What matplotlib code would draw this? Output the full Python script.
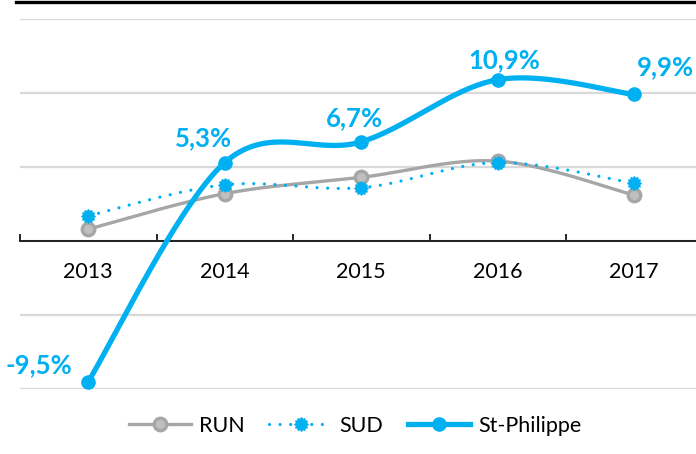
import numpy as np
import matplotlib
matplotlib.use("Agg")
import matplotlib.pyplot as plt
from matplotlib.lines import Line2D
from matplotlib.path import Path

years = ["2013", "2014", "2015", "2016", "2017"]
run = [0.8, 3.2, 4.3, 5.4, 3.1]
sud = [1.7, 3.8, 3.6, 5.3, 3.9]
st_philippe = [-9.5, 5.3, 6.7, 10.9, 9.9]

# where each St-Philippe value label sits relative to its point (pixels)
label_offsets = [(-49, 16), (-21, 24), (-7, 24), (7, 20), (31, 27)]

BLUE = "#00B0F0"
GREY = "#A6A6A6"
GREY_FILL = "#BFBFBF"
GRID = "#D9D9D9"
DOTS = (0, (0.01, 3.3))

plt.rcParams["font.family"] = ["Lato", "DejaVu Sans"]


def smooth(xs, ys, n=40):
    # Catmull-Rom style bezier through the points, like a spreadsheet "smoothed line"
    pts = np.column_stack([xs, ys]).astype(float)
    p = np.vstack([pts[0], pts, pts[-1]])
    t = np.linspace(0, 1, n)[:, None]
    out = []
    for i in range(1, len(p) - 2):
        p0, p1, p2, p3 = p[i - 1], p[i], p[i + 1], p[i + 2]
        c1 = p1 + (p2 - p0) / 6
        c2 = p2 - (p3 - p1) / 6
        seg = (1 - t) ** 3 * p1 + 3 * (1 - t) ** 2 * t * c1 + 3 * (1 - t) * t ** 2 * c2 + t ** 3 * p2
        out.append(seg if i == 1 else seg[1:])
    return np.vstack(out)


# bumpy round marker for SUD
ang = np.linspace(0, 2 * np.pi, 25)[:-1]
rad = np.where(np.arange(24) % 2 == 0, 1.0, 0.78)
verts = np.column_stack([rad * np.cos(ang), rad * np.sin(ang)])
verts = np.vstack([verts, verts[0]])
gear = Path(verts, closed=True)

W, H = 696, 454
fig = plt.figure(figsize=(W / 100, H / 100), dpi=100)
ax = fig.add_axes([20 / W, (H - 389) / H, 682.5 / W, 370 / H])

x = np.arange(len(years))

ax.set_xlim(-0.5, 4.5)
ax.set_ylim(-10, 15)
ax.set_yticks(np.arange(-10, 16, 5))
ax.yaxis.grid(True, color=GRID, linewidth=1.6)
ax.set_axisbelow(True)
ax.tick_params(axis="y", length=0, labelleft=False)

for s in ["left", "right", "top"]:
    ax.spines[s].set_visible(False)
ax.spines["bottom"].set_position(("data", 0))
ax.spines["bottom"].set_color("black")
ax.spines["bottom"].set_linewidth(1.2)
ax.spines["bottom"].set_zorder(1.5)

ax.set_xticks(x)
ax.set_xticklabels(years, fontsize=15.5)
ax.set_xticks(np.arange(-0.5, 5, 1), minor=True)
ax.tick_params(axis="x", which="major", length=0, pad=15)
ax.tick_params(axis="x", which="minor", direction="in", length=5, width=1.2, color="black")

# RUN
c = smooth(x, run)
ax.plot(c[:, 0], c[:, 1], color=GREY, lw=2.4, solid_capstyle="round", zorder=3)
ax.plot(x, run, ls="none", marker="o", ms=9, mfc=GREY_FILL, mec=GREY, mew=2.4, zorder=3)

# SUD
c = smooth(x, sud)
ax.plot(c[:, 0], c[:, 1], color=BLUE, lw=2.3, ls=DOTS, dash_capstyle="round", zorder=4)
ax.plot(x, sud, ls="none", marker=gear, ms=11, mfc=BLUE, mec=BLUE, mew=0, zorder=4)

# St-Philippe
c = smooth(x, st_philippe)
ax.plot(c[:, 0], c[:, 1], color=BLUE, lw=3.8, solid_capstyle="round", zorder=5)
ax.plot(x, st_philippe, ls="none", marker="o", ms=10.5, mfc=BLUE, mec=BLUE, mew=0, zorder=5)

for xi, v, (dx, dy) in zip(x, st_philippe, label_offsets):
    txt = f"{v:.1f}%".replace(".", ",")
    ax.annotate(txt, (xi, v), xytext=(dx, dy), textcoords="offset pixels",
                ha="center", va="center", fontsize=18.5, fontweight="bold", color=BLUE,
                zorder=6)

# thick rule along the top
fig.add_artist(Line2D([16 / W, 1], [1 - 1.5 / H, 1 - 1.5 / H], color="black", lw=2.4,
                      transform=fig.transFigure))

handles = [
    Line2D([], [], color=GREY, lw=2.4, marker="o", ms=9, mfc=GREY_FILL, mec=GREY, mew=2.4),
    Line2D([], [], color=BLUE, lw=2.3, ls=DOTS, dash_capstyle="round",
           marker=gear, ms=11, mfc=BLUE, mec=BLUE, mew=0),
    Line2D([], [], color=BLUE, lw=3.8, marker="o", ms=10.5, mfc=BLUE, mec=BLUE, mew=0),
]
fig.legend(handles, ["RUN", "SUD", "St-Philippe"], loc="center", bbox_to_anchor=(0.51, (H - 426) / H),
           ncol=3, frameon=False, fontsize=15.5, handlelength=2.9, handletextpad=0.35,
           columnspacing=1.15)

fig.savefig("out.png", dpi=100)
